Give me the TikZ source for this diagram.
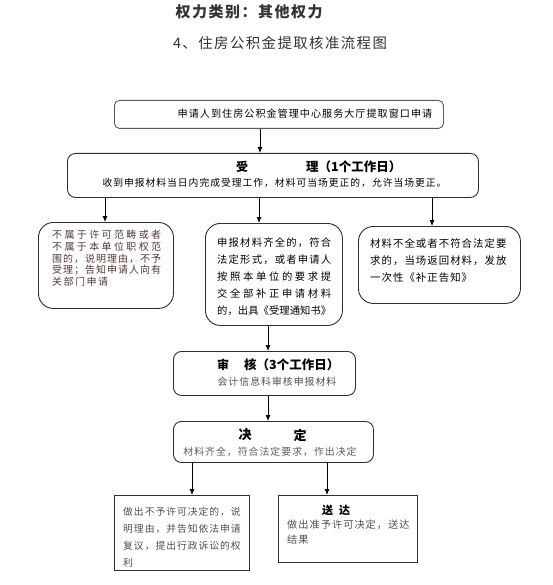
\documentclass[tikz,border=0pt]{standalone}
\usepackage{fontspec}
\setmainfont{Noto Sans CJK SC}
\newfontfamily\cjk[LetterSpace=10]{Noto Sans CJK SC}
\usetikzlibrary{arrows.meta}
\ExplSyntaxOn
\NewDocumentCommand\jline{mm}{\makebox[#1][s]{\tl_map_inline:nn{#2}{##1\hfil}\unskip}}
\ExplSyntaxOff
\definecolor{bordc}{HTML}{2E2E2E}
\definecolor{redgray}{HTML}{553838}
\definecolor{browngray}{HTML}{6A5A52}
\definecolor{midgray}{HTML}{505050}
\begin{document}
\begin{tikzpicture}[x=1pt,y=-1pt,
  box/.style={draw=bordc, line width=0.9pt, inner sep=0pt, anchor=north west},
  arr/.style={-{Latex[length=6pt,width=5pt]}, line width=0.8pt, black},
  t/.style={inner sep=0pt, align=left, anchor=north west},
  c/.style={inner sep=0pt}
]
\useasboundingbox (0,0) rectangle (552,585);

% titles
\node[c, text=black!80, font=\cjk\bfseries\fontsize{15}{15}\selectfont] (title1) at (249,12) {权力类别：其他权力};
\node[c, text=black!80, font=\cjk\fontsize{14.4}{15}\selectfont] (title2) at (280,43) {4、住房公积金提取核准流程图};

% box 1
\node[box, draw=black!65, rounded corners=5pt, minimum width=329pt, minimum height=28pt] (b1) at (114,100) {};
\node[c, font=\cjk\fontsize{10.1}{12}\selectfont] (b1t) at (305,114) {申请人到住房公积金管理中心服务大厅提取窗口申请};

% box 2
\node[box, rounded corners=8pt, minimum width=411pt, minimum height=44pt] (b2) at (67,153) {};
\node[c, font=\bfseries\fontsize{12}{12}\selectfont] (b2a) at (242,167) {受};
\node[c, anchor=west, font=\bfseries\fontsize{12.5}{12}\selectfont] (b2b) at (306,167) {理（1个工作日）};
\node[c, font=\cjk\fontsize{9.8}{12}\selectfont] (b2t) at (274.5,183) {收到申报材料当日内完成受理工作，材料可当场更正的，允许当场更正。};

% left box
\node[box, rounded corners=15pt, minimum width=135pt, minimum height=86pt] (bl) at (38,222) {};
\node[t, text=redgray, font=\fontsize{10}{11.7}\selectfont] (blt) at (52,230) {\jline{109pt}{不属于许可范畴或者}\\\jline{109pt}{不属于本单位职权范}\\\jline{109pt}{围的，说明理由，不予}\\\jline{109pt}{受理；告知申请人向有}\\\jline{56pt}{关部门申请}};

% middle box
\node[box, rounded corners=15pt, minimum width=137pt, minimum height=102pt] (bm) at (205,223) {};
\node[t, font=\fontsize{10.3}{16.8}\selectfont] (bmt) at (217,238) {\jline{114pt}{申报材料齐全的，符合}\\\jline{114pt}{法定形式，或者申请人}\\\jline{114pt}{按照本单位的要求提}\\\jline{114pt}{交全部补正申请材料}\\\jline{114pt}{的，出具《受理通知书》}};

% right box
\node[box, rounded corners=15pt, minimum width=162pt, minimum height=77pt] (br) at (358,226) {};
\node[t, font=\cjk\fontsize{10.4}{17}\selectfont] (brt) at (370,238) {材料不全或者不符合法定要\\求的，当场返回材料，发放\\一次性《补正告知》};

% review box
\node[box, rounded corners=8pt, minimum width=182pt, minimum height=44pt] (bs) at (173,351) {};
\node[c, font=\bfseries\fontsize{12}{12}\selectfont] (bsa) at (223,365) {审};
\node[c, anchor=west, font=\bfseries\fontsize{12.5}{12}\selectfont] (bsb) at (244,365) {核（3个工作日）};
\node[c, text=midgray, font=\cjk\fontsize{9.9}{12}\selectfont] (bst) at (277,382) {会计信息科审核申报材料};

% decision box
\node[box, rounded corners=8pt, minimum width=200pt, minimum height=41pt] (bd) at (173,421) {};
\node[c, font=\bfseries\fontsize{13}{13}\selectfont] (bda) at (245,435) {决};
\node[c, font=\bfseries\fontsize{13}{13}\selectfont] (bdb) at (300,435) {定};
\node[c, text=browngray, font=\cjk\fontsize{9.9}{12}\selectfont] (bdt) at (270,452) {材料齐全，符合法定要求，作出决定};

% bottom left
\node[box, minimum width=135pt, minimum height=75pt] (bx) at (114,495) {};
\node[t, text=midgray, font=\cjk\fontsize{9.8}{17}\selectfont] (bxt) at (123,507) {做出不予许可决定的，说\\明理由，并告知依法申请\\复议，提出行政诉讼的权\\利};

% bottom right
\node[box, minimum width=139pt, minimum height=67pt] (by) at (278,495) {};
\node[c, font=\bfseries\fontsize{11}{11}\selectfont] (bya) at (336,510) {送\hspace{6pt}达};
\node[t, text=midgray, font=\cjk\fontsize{10.2}{15}\selectfont] (byt) at (287,520) {做出准予许可决定，送达\\结果};

% arrow x positions
\coordinate (x1) at (260,0);
\coordinate (xl) at (105,0);
\coordinate (xm) at (259,0);
\coordinate (xr) at (432,0);
\coordinate (xs) at (268,0);
\coordinate (xa) at (192,0);
\coordinate (xb) at (327,0);

\draw[arr] (b1.south -| x1) -- (b2.north -| x1);
\draw[arr] (b2.south -| xl) -- (bl.north -| xl);
\draw[arr] (b2.south -| xm) -- (bm.north -| xm);
\draw[arr] (b2.south -| xr) -- (br.north -| xr);
\draw[arr] (bm.south -| xs) -- (bs.north -| xs);
\draw[arr] (bs.south -| xs) -- (bd.north -| xs);
\draw[arr] (bd.south -| xa) -- (bx.north -| xa);
\draw[arr] (bd.south -| xb) -- (by.north -| xb);
\end{tikzpicture}
\end{document}
